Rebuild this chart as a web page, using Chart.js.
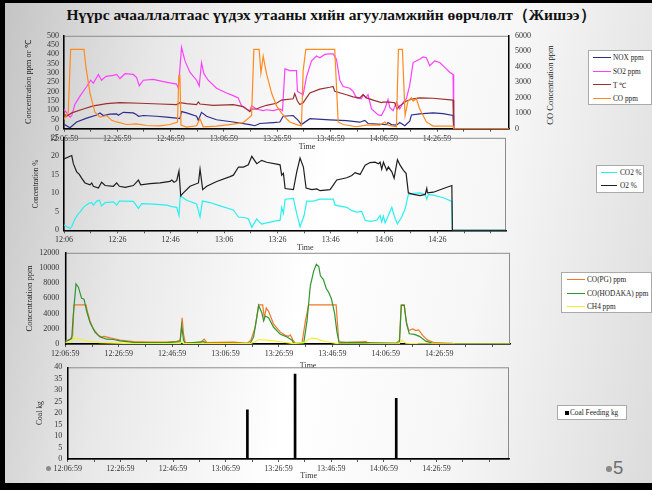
<!DOCTYPE html>
<html>
<head>
<meta charset="utf-8">
<script src="https://cdn.jsdelivr.net/npm/chart.js@4.4.1/dist/chart.umd.min.js"></script>
<style>
  html, body { margin: 0; padding: 0; width: 652px; height: 490px; overflow: hidden; background: #000; }
  .slide { position: absolute; left: 5px; top: 3px; width: 647px; height: 480px;
    background: linear-gradient(100deg, #c4c4c4 0%, #e8e8e8 22%, #ffffff 48%, #f6f6f6 72%, #dcdcdc 100%); }
  h1 { position: absolute; left: 0; top: 5px; width: 662px; margin: 0; text-align: center;
    font: bold 15.5px/20px "Liberation Serif", serif; color: #111; }
  canvas { position: absolute; }
  .legend { position: absolute; background: #fff; border: 1px solid #aaa; box-sizing: border-box;
    font: 7.3px "Liberation Serif", serif; color: #222; }
  .legend div { display: flex; align-items: center; white-space: nowrap; }
  .legend i { display: inline-block; border-top: 1.5px solid; }
  .rtitle { position: absolute; left: 500px; top: 80px; width: 100px; height: 10px; line-height: 10px;
    text-align: center; font: 8.5px "Liberation Serif", serif; color: #222; transform: rotate(-90deg); }
  .dot { position: absolute; border-radius: 50%; background: #8a8a8a; }
  .page { position: absolute; left: 613px; top: 459px; font: 18.5px/18.5px "Liberation Sans", sans-serif; color: #6e6e6e; }
</style>
</head>
<body>
<div class="slide"></div>
<h1>Нүүрс ачааллалтаас үүдэх утааны хийн агууламжийн өөрчлөлт（Жишээ）</h1>

<canvas id="c1" width="519" height="130" style="left:20px; top:25px"></canvas>
<canvas id="c2" width="480" height="128" style="left:28px; top:128px"></canvas>
<canvas id="c3" width="491" height="134" style="left:21px; top:242px"></canvas>
<canvas id="c4" width="480" height="130" style="left:31px; top:357px"></canvas>

<div class="rtitle">CO Concentration ppm</div>
<div class="legend" id="lg1" style="left:588px; top:50px; width:64px; height:55px; padding:0 0 0 4px"></div>
<div class="legend" id="lg2" style="left:596px; top:165px; width:48px; height:28px; padding:0 0 0 4px"></div>
<div class="legend" id="lg3" style="left:561px; top:272px; width:91px; height:41px; padding:0 0 0 5px"></div>
<div class="legend" id="lg4" style="left:557px; top:405px; width:70px; height:15px; padding:0 0 0 7px"></div>

<div class="dot" style="left:46px; top:466px; width:5px; height:5px"></div>
<div class="dot" style="left:606px; top:466px; width:5.5px; height:5.5px"></div>
<div class="page">5</div>

<script>
// x values are minutes after 12:06:59
const fullLabels = ['12:06:59', '12:26:59', '12:46:59', '13:06:59', '13:26:59', '13:46:59', '14:06:59', '14:26:59'];
const shortLabels = ['12:06', '12:26', '12:46', '13:06', '13:26', '13:46', '14:06', '14:26'];

// chart 1: NOX, SO2, T (left axis), CO (right axis)
const noxTime = [0, 2.25, 4.75, 8.5, 12.25, 13.5, 14.75, 17.25, 19.75, 20.4, 22.25, 26, 27.25, 28, 29.75, 34.75, 38.5, 42.25, 43.5, 44.1, 46, 49.75, 50.4, 51.6, 53.5, 57.25, 63.5, 69.75, 71.6, 73.5, 78.5, 81, 82.25, 86, 87.9, 89.1, 92.25, 99.75, 106, 111, 112.9, 114.1, 121, 121.6, 122.9, 124.75, 126, 127.9, 129.75, 130.4, 133.5, 138.5, 142.25, 146, 146.25, 167];
const noxPpm = [24, 5, 36, 57, 74, 85, 71, 78, 80, 72, 88, 85, 75, 67, 71, 67, 62, 57, 54, 92, 85, 67, 45, 88, 67, 48, 36, 22, 16, 28, 33, 36, 67, 71, 45, 22, 54, 47, 43, 35, 45, 28, 22, 33, 22, 19, 33, 16, 41, 74, 80, 85, 81, 71, 0, 0];

const so2Time = [0, 1, 2.25, 2.9, 4.1, 6, 8.5, 10, 11, 12.9, 14.1, 15.75, 18.5, 19.75, 21, 22.9, 26, 27.25, 28.25, 29.75, 33.5, 37.25, 39.75, 42.25, 42.9, 43.25, 44.1, 45.4, 47.25, 49.75, 50.75, 51.6, 52.5, 54.1, 57.25, 61, 63.5, 65.4, 66.6, 68.5, 69.75, 70.4, 72.25, 74.75, 76, 78.5, 81, 82, 82.9, 84.75, 87.25, 87.6, 89.75, 91, 92.9, 94.75, 96, 97.9, 99.75, 101, 102.25, 103.5, 104.75, 107.25, 108.5, 109.75, 111.6, 112.25, 113.25, 114.1, 115.4, 117.9, 119.1, 120.4, 121.6, 122.25, 123.5, 124.75, 126, 127.25, 128.5, 129.75, 131, 133.5, 134.75, 136, 137.25, 139.1, 141, 142.9, 144.75, 146, 146.25, 167];
const so2Ppm = [105, 85, 62, 70, 131, 175, 227, 261, 245, 292, 261, 282, 287, 292, 270, 296, 292, 275, 230, 261, 265, 253, 247, 240, 218, 275, 438, 365, 304, 261, 230, 356, 296, 261, 218, 192, 178, 166, 123, 106, 97, 123, 106, 97, 102, 97, 106, 97, 322, 313, 313, 201, 183, 279, 365, 391, 382, 400, 403, 403, 374, 261, 227, 218, 201, 166, 161, 183, 166, 183, 106, 74, 71, 106, 157, 114, 97, 143, 106, 140, 161, 235, 356, 374, 386, 382, 339, 365, 356, 330, 304, 292, 0, 0];

const tempTime = [0, 1, 2.9, 7.25, 11, 16, 21, 28.5, 36, 42.25, 43.5, 46, 49.75, 50.4, 51, 56, 63.5, 67.25, 69.75, 70.4, 72.25, 73.5, 76, 79.75, 81.6, 86, 86.6, 87.6, 88.5, 89.75, 92.25, 96, 99.75, 101, 101.6, 106, 108.5, 111, 112.25, 113.5, 116, 119.1, 119.75, 122.25, 124.1, 125, 126, 128.5, 131, 133.5, 138.5, 146, 146.25, 167];
const tempC = [80, 67, 85, 106, 123, 135, 140, 137, 133, 130, 140, 135, 130, 144, 133, 126, 130, 119, 92, 106, 106, 114, 126, 137, 154, 161, 189, 149, 130, 140, 192, 213, 223, 227, 201, 183, 171, 166, 183, 166, 154, 140, 143, 143, 140, 106, 123, 149, 161, 166, 164, 154, 0, 0];

const coTime = [0, 1.6, 2.5, 7.5, 8.25, 9.75, 11.6, 13.5, 16, 17.9, 19.75, 23.5, 27.25, 31, 36, 39.75, 42.6, 43.1, 43.5, 43.9, 46, 49.75, 51, 52.25, 57.25, 63.5, 67.25, 70.4, 71.25, 73.25, 73.9, 74.75, 76, 77.9, 79.75, 81.6, 82.9, 84.75, 87.9, 89.1, 89.75, 90.75, 101.6, 102.9, 104.75, 109.75, 113.5, 118.5, 120.4, 121.6, 124.75, 125.5, 127, 128, 129.1, 130.4, 131, 132.25, 133.5, 136, 138.5, 146, 146.25, 167];
const coPpm = [600, 1060, 5120, 5120, 3965, 2300, 1060, 750, 850, 540, 436, 270, 311, 208, 187, 270, 436, 3446, 3446, 228, 104, 187, 644, 125, 166, 290, 394, 851, 5120, 5120, 3590, 4690, 3550, 2300, 1470, 1020, 750, 436, 228, 187, 3760, 5120, 5120, 436, 270, 125, 228, 228, 436, 228, 125, 5120, 5120, 851, 1785, 1993, 1785, 1930, 1266, 436, 166, 166, 0, 0];

// chart 2: O2 and CO2 %
const o2Time = [0, 2.25, 2.9, 3.5, 4.75, 5.75, 6.6, 7.9, 9.75, 10.4, 11, 12.9, 14.1, 15.4, 18.5, 19.75, 20.75, 22.9, 26, 27.9, 28.75, 32.25, 36, 39.75, 40.4, 41.25, 42.25, 43.1, 43.75, 44.75, 47.25, 50.4, 51, 52, 53.5, 57.25, 62.25, 63.5, 65.4, 67.25, 69.1, 70.4, 72.25, 74.1, 76, 79.75, 81, 81.6, 82.25, 82.9, 86, 87.25, 88.5, 89.75, 90.75, 92.9, 94.75, 96, 99.75, 101, 102.25, 106, 107.9, 109.1, 111, 112.9, 114.75, 116.6, 117.9, 118.5, 119.1, 119.75, 121, 121.6, 122.9, 123.75, 125, 126, 127.25, 128.25, 129.1, 131, 133.5, 135.4, 136, 136.25, 138.5, 142.25, 145.4, 145.6, 165.75];
const o2Pct = [19.3, 20.0, 20.2, 18.0, 15.8, 15.1, 14.1, 12.8, 12.3, 12.8, 11.9, 11.4, 13.0, 12.1, 11.9, 12.8, 11.9, 11.6, 12.1, 13.6, 12.3, 12.6, 12.8, 13.2, 13.6, 13.0, 13.4, 16.0, 9.3, 10.1, 11.9, 12.8, 16.5, 11.0, 11.9, 13.2, 14.5, 14.9, 17.1, 17.1, 17.7, 20.0, 18.0, 18.9, 18.4, 17.9, 17.7, 14.9, 15.4, 11.3, 11.0, 15.8, 19.5, 17.1, 11.4, 11.0, 11.2, 10.7, 11.0, 12.3, 13.6, 14.2, 14.8, 15.6, 15.1, 17.6, 18.3, 18.4, 18.0, 18.4, 16.5, 18.4, 16.2, 17.1, 15.8, 14.1, 19.1, 17.6, 16.2, 15.4, 10.1, 9.7, 9.4, 9.7, 11.3, 10.1, 10.3, 11.3, 12.1, 0, 0];

const co2Time = [0, 2.25, 2.9, 4.1, 5.4, 6, 7.25, 9.1, 10.4, 11, 12.25, 13.25, 14.1, 15.4, 18.5, 19.75, 20.75, 22.25, 26, 27.9, 29.1, 33.5, 38.5, 40.4, 42.25, 43.1, 43.6, 46, 49.75, 51, 51.9, 54.75, 58.5, 63.5, 65.4, 67.9, 69.1, 70.4, 72.25, 73.25, 74.1, 76, 80.4, 81, 81.6, 82.25, 82.9, 86, 87.25, 88.5, 90, 91, 93.5, 96, 101, 101.6, 106, 107.9, 109.75, 111.6, 112.9, 114.75, 117.25, 118.5, 119.1, 119.75, 120.4, 122.9, 123.75, 125, 126.6, 127.9, 129.1, 131, 133.5, 135.4, 136, 136.6, 138.5, 142.25, 145.4, 145.6, 165.75];
const co2Pct = [1.4, 0.5, 1.0, 3.1, 4.5, 4.9, 6.2, 7.2, 7.5, 6.8, 7.9, 8.1, 6.6, 7.5, 7.7, 6.8, 7.9, 7.9, 7.8, 5.9, 7.2, 7.1, 6.8, 6.4, 6.2, 4.0, 9.3, 8.1, 7.1, 3.6, 7.9, 7.5, 6.6, 5.5, 3.6, 3.4, 3.1, 0.8, 3.1, 2.2, 1.7, 2.0, 2.7, 2.7, 6.2, 4.6, 8.4, 8.6, 4.5, 1.0, 4.0, 7.9, 7.9, 8.4, 8.4, 6.8, 6.2, 5.3, 4.9, 5.1, 2.7, 2.4, 2.7, 4.0, 2.3, 3.8, 2.0, 6.2, 4.0, 1.7, 3.6, 5.8, 9.7, 10.0, 10.1, 9.7, 8.4, 9.7, 9.5, 8.8, 7.8, 0, 0];

// chart 3: CO(PG), CO(HODAKA), CH4 ppm
const coPgTime = [0, 1.75, 2.75, 3.25, 7.75, 8.25, 9.25, 10.5, 12.4, 13.6, 14.5, 16.75, 18, 20.5, 25.5, 31.75, 38, 41.75, 43, 43.75, 44.25, 44.9, 50.5, 52, 53, 63, 68, 69.5, 71.1, 72.4, 73.9, 74.5, 75.25, 76.1, 78, 80.5, 82.4, 83.6, 84.25, 85.25, 86.1, 88.6, 89.9, 91.1, 101.4, 102.4, 105.2, 112.6, 113.3, 114, 123.8, 125.1, 125.8, 126.9, 127.6, 128.6, 130.1, 131.3, 132.3, 133.8, 135.7, 138.2, 145, 146.3, 166.5];
const coPgPpm = [420, 590, 1140, 5150, 5150, 4310, 3040, 1990, 1140, 930, 1010, 800, 720, 510, 300, 250, 250, 340, 510, 3460, 1350, 170, 170, 630, 170, 250, 85, 510, 2200, 5150, 5150, 3460, 4730, 4310, 2620, 1560, 1140, 1010, 1200, 510, 85, 85, 3040, 5150, 5150, 300, 170, 300, 170, 120, 85, 510, 5150, 5150, 3040, 1770, 1990, 1770, 1860, 1140, 510, 170, 85, 0, 0];

const coHodTime = [0, 2.4, 3, 4, 4.9, 6.1, 7, 8, 9.25, 11.1, 13, 15.5, 18, 20.5, 25.5, 38, 43, 43.6, 44.25, 44.9, 51.75, 53, 69.25, 70.5, 72.4, 73.6, 74.25, 74.9, 76.1, 78, 80.5, 83, 84.9, 85.5, 89.25, 90.5, 91.75, 93, 94, 94.9, 95.5, 96.1, 96.6, 97.7, 98.6, 99.6, 100.8, 101.7, 102.5, 125.1, 125.8, 126.9, 127.8, 128.8, 130.7, 132.6, 135, 137.5, 145, 166.5];
const coHodPpm = [300, 720, 3890, 7900, 7480, 6000, 5900, 4310, 2830, 1560, 930, 630, 590, 420, 210, 170, 300, 2410, 510, 85, 300, 85, 85, 930, 5070, 4100, 3040, 3680, 3460, 2200, 1270, 930, 510, 85, 85, 3040, 7690, 9590, 10500, 10200, 9000, 8700, 8500, 7300, 6800, 6000, 4100, 1600, 250, 85, 5070, 5070, 2620, 1350, 1270, 1010, 380, 85, 0, 0];

const ch4Time = [0, 2.4, 3.25, 5.5, 8, 13, 25.5, 43, 43.6, 44.25, 69.25, 71.1, 72.4, 75.5, 83, 85.5, 89.9, 91, 92.5, 94, 95.5, 97.7, 101.4, 102.5, 125, 126, 127.5, 132, 146, 166.5];
const ch4Ppm = [170, 250, 845, 630, 380, 170, 40, 40, 300, 40, 40, 300, 590, 510, 170, 40, 250, 600, 760, 700, 500, 300, 85, 20, 40, 510, 100, 40, 0, 0];

// chart 4: coal feeding
const coalTime = [68.2, 86.3, 124.7];
const coalKg = [21.5, 37, 26.5];

Chart.defaults.font.family = '"Liberation Serif", serif';
Chart.defaults.color = '#333';

function pts(ts, vs) {
    return ts.map((t, i) => ({ x: t, y: vs[i] }));
}

function line(label, color, ts, vs, order) {
    return { label: label, data: pts(ts, vs), borderColor: color, backgroundColor: color,
        borderWidth: 1.2, pointRadius: 0, tension: 0, fill: false, order: order };
}

function timeAxis(max, labels, height) {
    return {
        type: 'linear', min: 0, max: max, offset: false,
        ticks: {
            stepSize: 10, includeBounds: false, autoSkip: false, maxRotation: 0, padding: 2,
            font: { size: 8 }, color: '#333',
            callback: v => (v % 20 === 0 && labels[v / 20]) ? labels[v / 20] : ''
        },
        grid: { display: true, offset: false, drawOnChartArea: false, drawTicks: true, tickLength: 3, color: '#555' },
        border: { display: true, color: '#000', width: 1.5 },
        afterFit: s => { s.height = height; }
    };
}

function valueAxis(pos, max, step, width, pad, title, titleSize) {
    const ax = {
        type: 'linear', position: pos, min: 0, max: max,
        ticks: { stepSize: step, padding: pad, autoSkip: false, font: { size: 8 }, color: '#333',
            callback: v => String(v) },
        grid: { display: false, drawTicks: false },
        border: { display: true, color: '#000', width: 1.5 },
        afterFit: s => { s.width = width; }
    };
    if (title) {
        ax.title = { display: true, text: title, font: { size: titleSize }, color: '#222', padding: { top: 4, bottom: 0 } };
    }
    return ax;
}

function opts(scales, dy, padRight) {
    return {
        responsive: false, animation: false, events: [],
        layout: { padding: { top: 7.3, right: padRight, left: 0, bottom: 0 } },
        plugins: { legend: { display: false }, tooltip: { enabled: false }, timeTitle: { dy: dy } },
        scales: scales
    };
}

// "Time" under each x axis, a bit right of centre as on the slide
const timeTitle = {
    id: 'timeTitle',
    afterDraw(chart, args, o) {
        const a = chart.chartArea, ctx = chart.ctx;
        ctx.save();
        ctx.font = '8px "Liberation Serif", serif';
        ctx.fillStyle = '#333';
        ctx.textAlign = 'center';
        ctx.textBaseline = 'middle';
        ctx.fillText('Time', a.left + (a.right - a.left) * 0.546, a.bottom + o.dy);
        ctx.restore();
    }
};

// grey box round the plot area (axes draw over the left/bottom sides)
const plotFrame = {
    id: 'plotFrame',
    beforeDraw(chart) {
        const a = chart.chartArea, ctx = chart.ctx;
        ctx.save();
        ctx.strokeStyle = '#8c8c8c';
        ctx.lineWidth = 1;
        ctx.strokeRect(a.left, a.top + 0.5, a.right - a.left - 0.5, a.bottom - a.top);
        ctx.restore();
    }
};

const chart1 = new Chart(document.getElementById('c1'), {
    type: 'line',
    data: { datasets: [
        line('NOX ppm', '#2e2e8a', noxTime, noxPpm, 4),
        line('SO2 ppm', '#ff40ff', so2Time, so2Ppm, 3),
        line('T ℃', '#9b3030', tempTime, tempC, 2),
        Object.assign(line('CO ppm', '#ff8a1e', coTime, coPpm, 1), { yAxisID: 'y2' })
    ] },
    options: opts({
        x: timeAxis(167, fullLabels, 26.3),
        y: valueAxis('left', 500, 50, 44, 5, 'Concentration ppm or ℃', 8.4),
        y2: valueAxis('right', 6000, 1000, 30, 6)
    }, 18.3, 0),
    plugins: [timeTitle, plotFrame]
});

const chart2 = new Chart(document.getElementById('c2'), {
    type: 'line',
    data: { datasets: [
        line('CO2 %', '#2af0f0', co2Time, co2Pct, 2),
        line('O2 %', '#1e1e1e', o2Time, o2Pct, 1)
    ] },
    options: opts({
        x: timeAxis(165.7, shortLabels, 25.7),
        y: valueAxis('left', 25, 5, 36, 5, 'Concentration %', 7.2)
    }, 17.2, 2),
    plugins: [timeTitle, plotFrame]
});

const chart3 = new Chart(document.getElementById('c3'), {
    type: 'line',
    data: { datasets: [
        line('CO(PG) ppm', '#f07828', coPgTime, coPgPpm, 3),
        line('CO(HODAKA) ppm', '#2f962f', coHodTime, coHodPpm, 2),
        line('CH4 ppm', '#f2f230', ch4Time, ch4Ppm, 1)
    ] },
    options: opts({
        x: timeAxis(166.5, fullLabels, 32),
        y: valueAxis('left', 12000, 2000, 44.3, 6, 'Concentration ppm', 8.6)
    }, 22, 2),
    plugins: [timeTitle, plotFrame]
});

const chart4 = new Chart(document.getElementById('c4'), {
    type: 'bar',
    data: { datasets: [
        { label: 'Coal Feeding kg', data: pts(coalTime, coalKg), backgroundColor: '#000', barThickness: 2 }
    ] },
    options: opts({
        x: timeAxis(167.5, fullLabels, 28),
        y: valueAxis('left', 40, 5, 36.7, 5.5, 'Coal kg', 7.6)
    }, 17, 2),
    plugins: [timeTitle, plotFrame]
});

// legends built from the datasets
function htmlLegend(chart, id, rowH, swW, gap, square) {
    const el = document.getElementById(id);
    el.innerHTML = chart.data.datasets.map(ds => {
        const mark = square
            ? '<b style="display:inline-block;width:4px;height:4px;background:' + ds.backgroundColor + ';margin-right:1px"></b>'
            : '<i style="width:' + swW + 'px;border-color:' + ds.borderColor + ';margin-right:' + gap + 'px"></i>';
        return '<div style="height:' + rowH + 'px">' + mark + ds.label + '</div>';
    }).join('');
}
htmlLegend(chart1, 'lg1', 13.5, 18, 2, false);
htmlLegend(chart2, 'lg2', 13.3, 16, 3, false);
htmlLegend(chart3, 'lg3', 13.5, 18, 2, false);
htmlLegend(chart4, 'lg4', 13, 0, 0, true);
</script>
</body>
</html>
